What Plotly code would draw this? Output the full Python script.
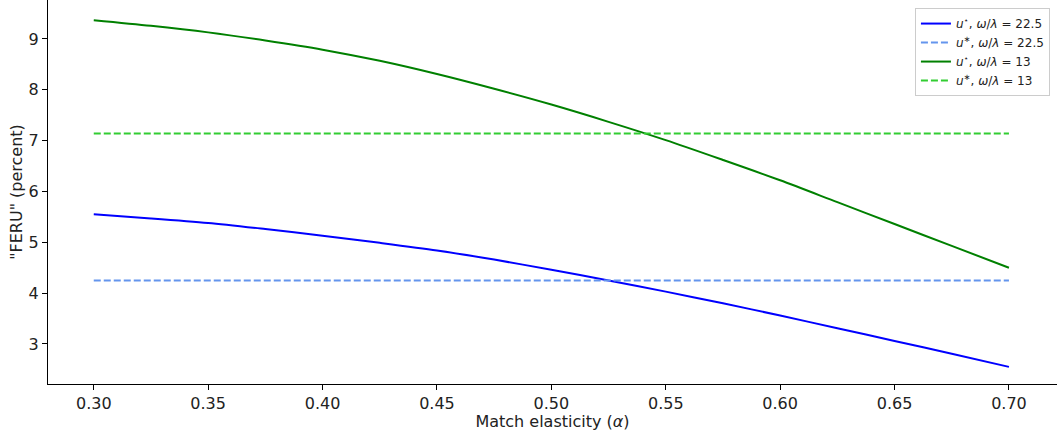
import plotly.graph_objects as go

alpha = [0.30, 0.325, 0.35, 0.375, 0.40, 0.425, 0.45, 0.475, 0.50, 0.525,
         0.55, 0.575, 0.60, 0.625, 0.65, 0.675, 0.70]
u_plus_225 = [5.55, 5.47, 5.38, 5.26, 5.13, 4.99, 4.84, 4.66, 4.46, 4.25,
              4.03, 3.80, 3.56, 3.31, 3.06, 2.81, 2.55]
u_plus_13 = [9.37, 9.26, 9.13, 8.97, 8.79, 8.57, 8.31, 8.02, 7.71, 7.37,
             7.01, 6.62, 6.22, 5.79, 5.36, 4.93, 4.50]
u_star_225 = 4.25
u_star_13 = 7.14

labels = ["<i>u</i><sup>⋆</sup>, <i>ω</i>/<i>λ</i> = 22.5",
          "<i>u</i><sup>∗</sup>, <i>ω</i>/<i>λ</i> = 22.5",
          "<i>u</i><sup>⋆</sup>, <i>ω</i>/<i>λ</i> = 13",
          "<i>u</i><sup>∗</sup>, <i>ω</i>/<i>λ</i> = 13"]

fig = go.Figure()
fig.add_trace(go.Scatter(x=alpha, y=u_plus_225, mode="lines", name=labels[0],
                         line=dict(color="#0000ff", width=2, shape="spline", smoothing=0.8)))
fig.add_trace(go.Scatter(x=alpha, y=[u_star_225] * len(alpha), mode="lines", name=labels[1],
                         line=dict(color="#6495ED", width=2, dash="7px,3px")))
fig.add_trace(go.Scatter(x=alpha, y=u_plus_13, mode="lines", name=labels[2],
                         line=dict(color="#008000", width=2, shape="spline", smoothing=0.8)))
fig.add_trace(go.Scatter(x=alpha, y=[u_star_13] * len(alpha), mode="lines", name=labels[3],
                         line=dict(color="#32CD32", width=2, dash="7px,3px")))

axis_common = dict(showgrid=False, zeroline=False, showline=True, linecolor="black",
                   linewidth=1.2, ticks="outside", ticklen=5, tickcolor="black",
                   tickfont=dict(family="DejaVu Sans", size=16, color="#222"),
                   mirror=False)

fig.update_layout(
    width=1057, height=431,
    margin=dict(l=48, r=0, t=0, b=47, autoexpand=False),
    paper_bgcolor="white", plot_bgcolor="white",
    font=dict(family="DejaVu Sans", color="#222"),
    xaxis=dict(range=[0.28, 0.721], tickvals=[0.30, 0.35, 0.40, 0.45, 0.50, 0.55, 0.60, 0.65, 0.70],
               ticktext=["0.30", "0.35", "0.40", "0.45", "0.50", "0.55", "0.60", "0.65", "0.70"],
               title=dict(text="Match elasticity (<i>α</i>)", font=dict(size=16), standoff=2),
               automargin=False, **axis_common),
    yaxis=dict(range=[2.213, 9.767], tickvals=[3, 4, 5, 6, 7, 8, 9],
               title=dict(text="\"FERU\" (percent)", font=dict(size=16), standoff=1),
               automargin=False, **axis_common),
    legend=dict(x=0.993, y=0.979, xanchor="right", yanchor="top",
                bordercolor="#cccccc", borderwidth=1, bgcolor="rgba(255,255,255,0.8)",
                font=dict(size=12, family="DejaVu Sans"), tracegroupgap=0,
                itemwidth=30),
    showlegend=True,
)

fig.write_html("out.html", config={"displayModeBar": False},
               post_script="document.body.style.margin='0';document.body.style.overflow='hidden';")
